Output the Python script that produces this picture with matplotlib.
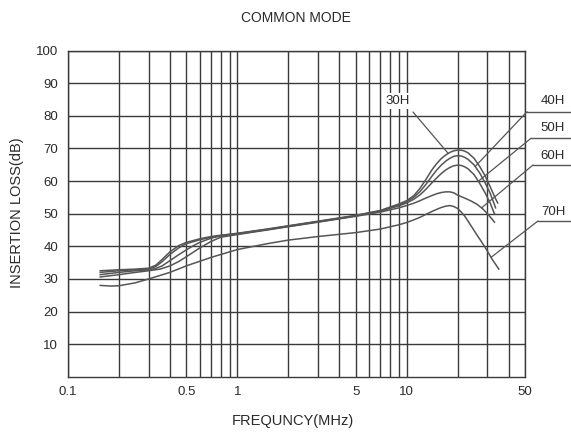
import matplotlib
matplotlib.use('Agg')
import matplotlib.pyplot as plt
import numpy as np
from matplotlib.lines import Line2D
from matplotlib.ticker import FixedLocator, NullFormatter

# ---------------- data ----------------
series_names = ['30H', '40H', '50H', '60H', '70H']

f_30h = [0.155, 0.2, 0.25, 0.3, 0.33, 0.36, 0.4, 0.45, 0.5, 0.6, 0.7, 0.8, 1, 1.5, 2, 3, 5, 7, 9,
         10, 11, 12, 13, 14, 15, 16, 17, 18, 19, 20, 21, 22, 23, 25, 27, 29, 31, 33, 34.5]
v_30h = [32.5, 32.8, 33.0, 33.3, 34.2, 36.0, 38.3, 40.2, 41.2, 42.3, 43.0, 43.4, 44.0, 45.3, 46.3, 47.7, 49.5, 51.0, 53.0,
         54.0, 55.5, 57.8, 60.5, 63.2, 65.3, 66.9, 68.0, 68.8, 69.3, 69.5, 69.5, 69.2, 68.7, 67.0, 64.5, 61.7, 58.5, 55.3, 53.3]

f_40h = [0.155, 0.2, 0.25, 0.3, 0.33, 0.36, 0.4, 0.45, 0.5, 0.6, 0.7, 0.8, 1, 1.5, 2, 3, 5, 7, 9,
         10, 11, 12, 13, 14, 15, 16, 17, 18, 19, 20, 21, 22, 23, 25, 27, 29, 31, 33, 33.5]
v_40h = [32.0, 32.5, 32.8, 33.0, 33.8, 35.3, 37.5, 39.5, 40.8, 42.0, 42.8, 43.3, 43.9, 45.2, 46.2, 47.6, 49.4, 50.9, 52.7,
         53.7, 55.0, 56.8, 59.0, 61.3, 63.3, 64.9, 66.1, 67.0, 67.6, 67.8, 67.7, 67.3, 66.7, 65.0, 62.5, 59.6, 56.5, 52.8, 51.8]

f_50h = [0.155, 0.2, 0.25, 0.3, 0.33, 0.36, 0.4, 0.45, 0.5, 0.55, 0.6, 0.7, 0.8, 1, 1.5, 2, 3, 5, 7, 9,
         10, 11, 12, 13, 14, 15, 16, 17, 18, 19, 20, 21, 22, 23, 25, 27, 29, 31, 33]
v_50h = [31.3, 32.0, 32.5, 32.8, 33.2, 34.0, 35.6, 37.4, 38.9, 40.2, 41.2, 42.5, 43.2, 43.8, 45.1, 46.1, 47.5, 49.3, 50.8, 52.4,
         53.3, 54.4, 55.8, 57.5, 59.3, 60.9, 62.3, 63.4, 64.2, 64.7, 64.9, 64.8, 64.4, 63.8, 62.0, 59.3, 56.5, 53.5, 50.0]

f_60h = [0.155, 0.2, 0.25, 0.3, 0.35, 0.4, 0.45, 0.5, 0.6, 0.7, 0.8, 1, 1.5, 2, 3, 5, 7, 9,
         10, 11, 12, 13, 14, 15, 16, 17, 18, 19, 20, 22, 24, 26, 28, 30, 32, 33]
v_60h = [30.6, 31.3, 32.0, 32.5, 33.0, 34.0, 35.3, 36.8, 39.5, 41.5, 42.8, 43.6, 45.0, 46.0, 47.4, 49.2, 50.5, 51.8,
         52.5, 53.2, 54.0, 54.8, 55.5, 56.1, 56.5, 56.7, 56.7, 56.4, 55.7, 54.8, 53.9, 52.9, 51.6, 50.0, 48.3, 47.4]

f_70h = [0.155, 0.18, 0.2, 0.25, 0.3, 0.4, 0.5, 0.7, 1, 1.5, 2, 3, 5, 7, 9,
         10, 11, 12, 13, 14, 15, 16, 17, 18, 19, 20, 21, 22, 24, 26, 28, 30, 32, 34, 35]
v_70h = [28.0, 27.8, 27.9, 28.8, 30.0, 32.0, 34.0, 36.6, 39.0, 40.8, 41.9, 43.0, 44.2, 45.3, 46.6,
         47.3, 48.1, 48.9, 49.8, 50.6, 51.3, 51.9, 52.3, 52.5, 52.2, 51.6, 50.5, 49.3, 46.3, 43.5, 41.0, 38.5, 36.0, 34.0, 33.0]

x_ticks = [0.1, 0.5, 1, 5, 10, 50]
x_tick_labels = ['0.1', '0.5', '1', '5', '10', '50']
x_minor = [0.2, 0.3, 0.4, 0.6, 0.7, 0.8, 0.9, 2, 3, 4, 6, 7, 8, 9, 20, 30, 40]
y_ticks = [10, 20, 30, 40, 50, 60, 70, 80, 90, 100]
y_tick_labels = ['10', '20', '30', '40', '50', '60', '70', '80', '90', '100']

# frequencies where callout leaders touch each curve
leader_freqs = [17.6, 25.4, 26.5, 27.7, 31.5]

# ---------------- figure ----------------
plt.rcParams['font.family'] = ['Liberation Sans', 'DejaVu Sans']
W, H = 571, 436
fig = plt.figure(figsize=(W / 100, H / 100), dpi=100)
fig.patch.set_facecolor('white')
ax = fig.add_axes([68 / W, 1 - 376.7 / H, (525 - 68) / W, (376.7 - 50.7) / H])

grid_col = '#3a3a3a'
curve_col = '#555555'
text_col = '#2a2a2a'

ax.set_xscale('log')
ax.set_xlim(0.1, 50)
ax.set_ylim(0, 100)
ax.xaxis.set_major_locator(FixedLocator(x_ticks))
ax.set_xticklabels(x_tick_labels)
ax.xaxis.set_minor_locator(FixedLocator(x_minor))
ax.xaxis.set_minor_formatter(NullFormatter())
ax.set_yticks(y_ticks)
ax.set_yticklabels(y_tick_labels)
ax.tick_params(which='both', length=0, labelsize=9.5, colors=text_col, pad=7)
ax.grid(which='both', axis='x', color=grid_col, lw=1.0)
ax.grid(which='major', axis='y', color=grid_col, lw=1.0)
for s in ax.spines.values():
    s.set_color(grid_col)
    s.set_linewidth(1.0)

curves = [(f_30h, v_30h), (f_40h, v_40h), (f_50h, v_50h), (f_60h, v_60h), (f_70h, v_70h)]
for (f, v) in curves:
    ax.plot(f, v, color=curve_col, lw=1.1, zorder=3)

# callouts (pixel layout, measured from top)
# right-side labels: (text center x, text center y, underline y, underline x start)
right_layout = {
    '40H': (553, 101, 111.7, 527),
    '50H': (553, 127.7, 138.3, 531),
    '60H': (553, 155.7, 165.0, 533),
    '70H': (553, 211.7, 221.0, 538),
}
for name, (f, v), lf in zip(series_names, curves, leader_freqs):
    target_v = np.interp(np.log10(lf), np.log10(f), v)
    if name == '30H':
        fig.text(398 / W, 1 - 101 / H, name, ha='center', va='center', fontsize=9.5, color=text_col,
                 bbox=dict(fc='white', ec='none', pad=1.5), zorder=5)
        start = (413, H - 112)
    else:
        tx, ty, uy, ux = right_layout[name]
        fig.text(tx / W, 1 - ty / H, name, ha='center', va='center', fontsize=9.5, color=text_col)
        fig.add_artist(Line2D([ux / W, 1.0], [1 - uy / H, 1 - uy / H], transform=fig.transFigure,
                              color=curve_col, lw=1.0))
        start = (ux, H - uy)
    ax.annotate('', xy=(lf, target_v), xycoords='data', xytext=start, textcoords='figure pixels',
                arrowprops=dict(arrowstyle='-', color=curve_col, lw=0.9, shrinkA=0, shrinkB=0),
                annotation_clip=False, zorder=4)

fig.text(296 / W, 1 - 18 / H, 'COMMON MODE', ha='center', va='center', fontsize=10, color=text_col)
fig.text(293 / W, 1 - 421 / H, 'FREQUNCY(MHz)', ha='center', va='center', fontsize=10.5, color=text_col)
fig.text(17 / W, 1 - 213 / H, 'INSERTION LOSS(dB)', ha='center', va='center', rotation=90,
         fontsize=10.5, color=text_col)

fig.savefig('out.png', dpi=100)
